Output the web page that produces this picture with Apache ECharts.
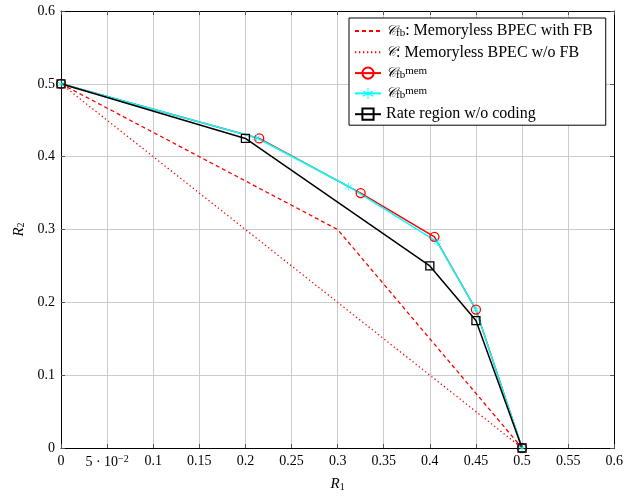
<!DOCTYPE html>
<html><head><meta charset="utf-8">
<script src="https://cdn.jsdelivr.net/npm/echarts@6/dist/echarts.min.js"></script>
<style>html,body{margin:0;padding:0;background:#fff}#c{width:626px;height:497px}</style>
</head><body><div id="c"></div>
<script>
const cfbFB = [[0,0.5],[0.3,0.3],[0.5,0]];
const cNoFB = [[0,0.5],[0.5,0]];
const cBarMem = [[0,0.5],[0.215,0.425],[0.325,0.35],[0.405,0.29],[0.45,0.19],[0.5,0]];
const cUnderMem = [[0,0.5],[0.212,0.426],[0.312,0.359],[0.408,0.283],[0.45,0.19],[0.5,0]];
const rateNoCoding = [[0,0.5],[0.2,0.425],[0.4,0.25],[0.45,0.175],[0.5,0]];
const xTickLabels = ['0','5·10−2','0.1','0.15','0.2','0.25','0.3','0.35','0.4','0.45','0.5','0.55','0.6'];
const yTickLabels = ['0','0.1','0.2','0.3','0.4','0.5','0.6'];

const F = 'Liberation Serif';
const star = 'path://M-0.4,-5L0.4,-5L0.4,5L-0.4,5Z M-4.5,-2.2L-4.1,-2.9L4.5,2.2L4.1,2.9Z M-4.1,2.9L-4.5,2.2L4.1,-2.9L4.5,-2.2Z';
const chart = echarts.init(document.getElementById('c'));
const legendText = {
  fb: '{cal|𝒞}{sub|fb}{t|: Memoryless BPEC with FB}',
  c: '{cal|𝒞}{t|: Memoryless BPEC w/o FB}',
  bar: '{cal|𝒞}{sub|fb}{sup|mem}',
  under: '{cal|𝒞}{sub|fb}{sup|mem}',
  rate: '{t|Rate region w/o coding}'
};
const gridAxis = {
  min: 0, max: 0.6,
  axisLine: {show: true, onZero: false, lineStyle: {color: '#000', width: 1}},
  axisTick: {show: true, inside: true, length: 4, lineStyle: {color: '#555'}},
};
const noSym = {color: 'rgba(0,0,0,0)', borderWidth: 0, borderColor: 'rgba(0,0,0,0)'};
chart.setOption({
  animation: false,
  textStyle: {fontFamily: F},
  grid: {left: 61, right: 11, top: 11, bottom: 49},
  legend: {
    left: 349, top: 18, orient: 'vertical',
    backgroundColor: '#fff', borderColor: '#000', borderWidth: 1,
    padding: [5, 13, 3, 5], itemGap: 5.3, itemWidth: 26, itemHeight: 14,
    data: [{name: 'fb', itemStyle: noSym}, {name: 'c', itemStyle: noSym}, 'bar', 'under', 'rate'],
    formatter: n => legendText[n],
    textStyle: {
      fontFamily: F, fontSize: 16, color: '#000', lineHeight: 15,
      rich: {
        t: {fontFamily: F, fontSize: 16, color: '#000'},
        cal: {fontFamily: 'DejaVu Sans', fontStyle: 'italic', fontSize: 14, color: '#000'},
        sub: {fontFamily: F, fontSize: 11, color: '#000', verticalAlign: 'bottom', padding: [6,0,0,0]},
        sup: {fontFamily: F, fontSize: 11, color: '#000', verticalAlign: 'top', padding: [0,0,8,0]}
      }
    }
  },
  xAxis: [
    Object.assign({}, gridAxis, {
      type: 'value', position: 'bottom', interval: 0.05,
      name: '{i|R}{s|1}', nameLocation: 'middle', nameGap: 28,
      nameTextStyle: {rich: {i: {fontFamily: F, fontStyle: 'italic', fontSize: 15, color: '#000'}, s: {fontFamily: F, fontSize: 10, color: '#000', verticalAlign: 'bottom', padding: [6,0,0,0]}}},
      axisLabel: {
        color: '#000', fontSize: 14, margin: 6, showMaxLabel: true,
        formatter: v => {
          const i = Math.round(v / 0.05);
          if (i === 1) return '{n|5 · 10}{e|−2}';
          return xTickLabels[i];
        },
        rich: {n: {fontFamily: F, fontSize: 14, color: '#000'}, e: {fontFamily: F, fontSize: 10, color: '#000', verticalAlign: 'top', padding: [0,0,7,0]}}
      },
      splitLine: {show: true, lineStyle: {color: '#cccccc', width: 1}}
    }),
    Object.assign({}, gridAxis, {
      type: 'value', position: 'top', interval: 0.05,
      axisLabel: {show: false}, splitLine: {show: false}
    })
  ],
  yAxis: [
    Object.assign({}, gridAxis, {
      type: 'value', position: 'left', interval: 0.1,
      name: '{i|R}{s|2}', nameLocation: 'middle', nameGap: 34, nameRotate: 90,
      nameTextStyle: {rich: {i: {fontFamily: F, fontStyle: 'italic', fontSize: 15, color: '#000'}, s: {fontFamily: F, fontSize: 10, color: '#000', verticalAlign: 'bottom', padding: [6,0,0,0]}}},
      axisLabel: {color: '#000', fontSize: 14, margin: 6, formatter: v => yTickLabels[Math.round(v / 0.1)]},
      splitLine: {show: true, lineStyle: {color: '#cccccc', width: 1}}
    }),
    Object.assign({}, gridAxis, {
      type: 'value', position: 'right', interval: 0.1,
      axisLabel: {show: false}, splitLine: {show: false}
    })
  ],
  series: [
    {name: 'fb', type: 'line', data: cfbFB, symbol: 'none', color: '#ff0000',
     lineStyle: {color: '#ff0000', width: 1.3, type: [4, 3]}},
    {name: 'c', type: 'line', data: cNoFB, symbol: 'none', color: '#ff0000',
     lineStyle: {color: '#ff0000', width: 1.3, type: [1.3, 2.7]}},
    {name: 'bar', type: 'line', data: cBarMem, symbol: 'circle', symbolSize: 9, color: '#ff0000',
     itemStyle: {color: 'rgba(0,0,0,0)', borderColor: '#ff0000', borderWidth: 1.3},
     lineStyle: {color: '#ff0000', width: 1.5}},
    {name: 'under', type: 'line', data: cUnderMem, symbol: star, symbolSize: 8, color: '#00ffff',
     itemStyle: {color: '#00ffff'},
     lineStyle: {color: '#00ffff', width: 1.5}},
    {name: 'rate', type: 'line', data: rateNoCoding, symbol: 'rect', symbolSize: 8, color: '#000',
     itemStyle: {color: 'rgba(0,0,0,0)', borderColor: '#000', borderWidth: 1.3},
     lineStyle: {color: '#000', width: 1.5}}
  ]
});
</script></body></html>
